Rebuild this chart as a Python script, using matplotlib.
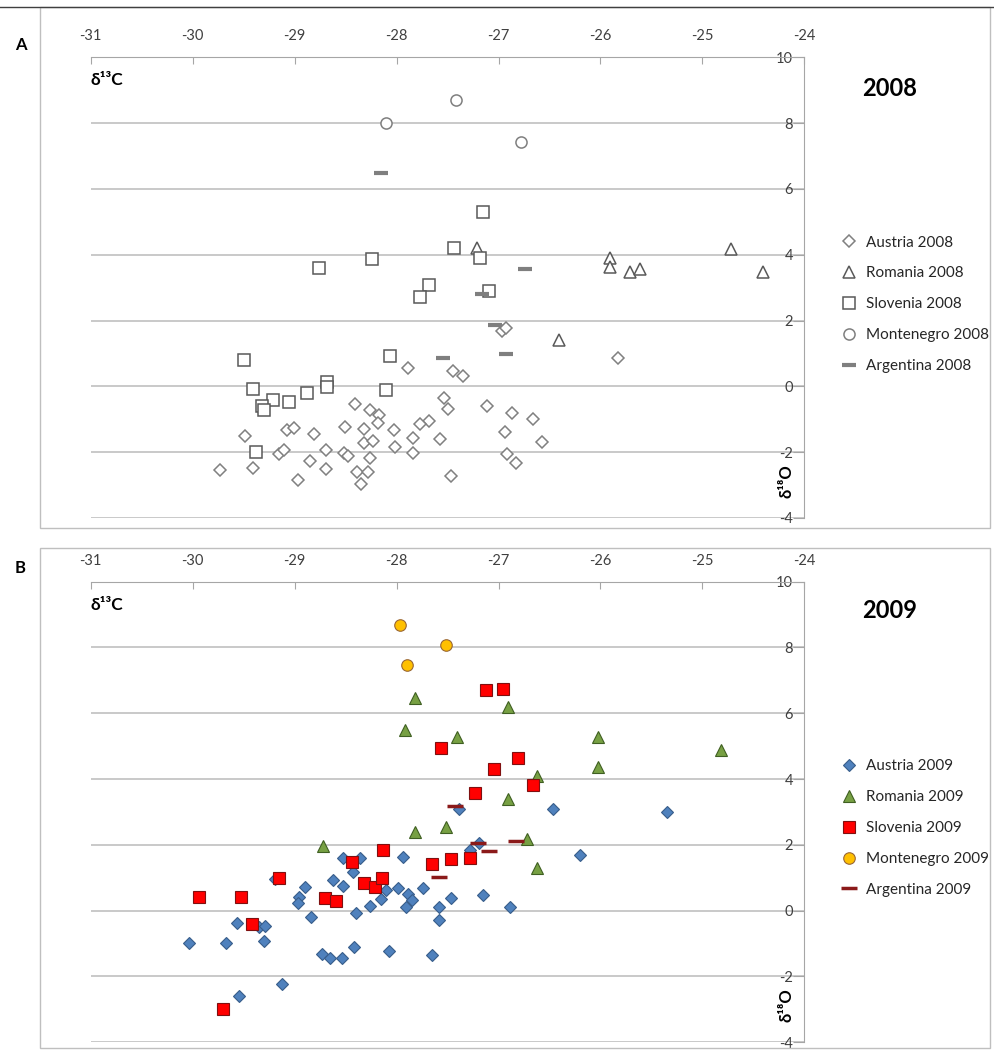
import matplotlib
matplotlib.use('Agg')
import matplotlib.pyplot as plt
from matplotlib.patches import Rectangle
from matplotlib.lines import Line2D

plt.rcParams['font.family'] = ['Lato', 'DejaVu Sans']
plt.rcParams['axes.unicode_minus'] = False

# ---- 2008 ----
aut08_c = [-27.45, -27.35, -27.89, -26.97, -26.93, -25.83,
           -27.11, -26.87, -26.66, -26.94, -26.57, -26.92, -26.83, -27.47,
           -28.41, -28.26, -28.17, -28.18, -27.53, -27.50, -27.68, -27.77,
           -29.49, -29.07, -29.01, -28.81, -28.51, -28.32, -28.32, -28.23,
           -28.03, -28.02, -27.84, -27.57, -27.84, -29.15, -29.10, -28.69,
           -28.52, -28.48, -28.26, -28.85, -28.69, -28.39, -28.28, -28.35,
           -29.73, -29.41, -28.97]
aut08_o = [0.47, 0.32, 0.57, 1.68, 1.78, 0.86,
           -0.59, -0.82, -1.00, -1.39, -1.68, -2.06, -2.33, -2.71,
           -0.54, -0.73, -0.87, -1.12, -0.34, -0.69, -1.05, -1.15,
           -1.52, -1.34, -1.27, -1.44, -1.24, -1.30, -1.73, -1.66,
           -1.32, -1.83, -1.56, -1.61, -2.03, -2.05, -1.93, -1.93,
           -2.03, -2.13, -2.18, -2.28, -2.51, -2.59, -2.61, -2.96,
           -2.54, -2.49, -2.84]
rom08_c = [-27.21, -25.91, -25.91, -25.71, -25.61, -24.72, -24.41, -26.41]
rom08_o = [4.20, 3.90, 3.64, 3.47, 3.57, 4.18, 3.47, 1.40]
slo08_c = [-27.15, -27.44, -27.18, -28.24, -28.76, -27.68, -27.77, -27.09,
           -29.50, -28.06, -29.41, -28.68, -28.68, -28.10, -29.21, -29.32,
           -29.30, -29.06, -28.88, -29.38]
slo08_o = [5.30, 4.19, 3.91, 3.87, 3.59, 3.08, 2.71, 2.91,
           0.80, 0.91, -0.08, 0.13, -0.02, -0.11, -0.41, -0.61,
           -0.71, -0.49, -0.19, -2.00]
mne08_c = [-27.42, -28.10, -26.78]
mne08_o = [8.71, 8.00, 7.42]
arg08_c = [-28.15, -27.16, -27.03, -26.74, -26.93, -27.54]
arg08_o = [6.49, 2.82, 1.87, 3.56, 0.99, 0.86]

# ---- 2009 ----
aut09_c = [-27.39, -28.53, -28.36, -27.94, -27.28, -27.19, -28.43, -26.47, -25.35, -26.20,
           -27.47, -27.15, -26.89, -29.19, -29.57, -29.35, -29.29, -29.30, -30.04, -29.67,
           -28.90, -28.96, -28.97, -28.84, -28.62, -28.53, -28.40, -28.26, -28.15, -28.10,
           -27.99, -27.89, -27.85, -27.91, -27.74, -27.58, -27.58, -28.42, -28.07, -27.65,
           -28.73, -28.65, -28.54, -29.12, -29.55]
aut09_o = [3.09, 1.59, 1.59, 1.64, 1.84, 2.06, 1.18, 3.08, 3.00, 1.69,
           0.39, 0.47, 0.10, 0.95, -0.37, -0.51, -0.47, -0.92, -1.00, -1.00,
           0.71, 0.42, 0.24, -0.21, 0.93, 0.76, -0.06, 0.14, 0.35, 0.62,
           0.69, 0.50, 0.32, 0.10, 0.69, 0.12, -0.29, -1.10, -1.23, -1.35,
           -1.33, -1.45, -1.45, -2.24, -2.60]
rom09_c = [-27.82, -27.92, -27.41, -26.91, -26.02, -26.02, -24.82,
           -26.62, -26.91, -27.82, -27.52, -28.72, -26.72, -26.62]
rom09_o = [6.47, 5.49, 5.28, 6.18, 5.28, 4.37, 4.88,
           4.09, 3.39, 2.40, 2.55, 1.96, 2.17, 1.28]
slo09_c = [-27.12, -26.96, -27.56, -27.04, -26.81, -26.66, -27.23, -28.13, -28.44, -27.65,
           -27.47, -27.28, -29.15, -29.94, -29.53, -29.42, -28.70, -28.59, -28.32, -28.21,
           -28.14, -29.70]
slo09_o = [6.70, 6.73, 4.95, 4.30, 4.65, 3.81, 3.56, 1.84, 1.48, 1.41,
           1.56, 1.59, 0.98, 0.42, 0.40, -0.41, 0.37, 0.29, 0.83, 0.72,
           1.00, -3.00]
mne09_c = [-27.97, -27.52, -27.90]
mne09_o = [8.68, 8.07, 7.48]
arg09_c = [-27.43, -27.20, -27.09, -26.83, -27.58]
arg09_o = [3.18, 2.06, 1.82, 2.12, 1.03]

fig = plt.figure(figsize=(9.95, 10.5), dpi=100)

# frame boxes and top rule
fig.add_artist(Rectangle((0.040, 0.497), 0.955, 0.496, transform=fig.transFigure,
                         fill=False, ec='#BFBFBF', lw=1))
fig.add_artist(Rectangle((0.040, 0.002), 0.955, 0.476, transform=fig.transFigure,
                         fill=False, ec='#BFBFBF', lw=1))
fig.add_artist(Line2D([0, 1], [0.993, 0.993], color='#404040', lw=1))

axA = fig.add_axes([0.0912, 0.5067, 0.7172, 0.4387])
axB = fig.add_axes([0.0912, 0.0075, 0.7172, 0.4385])


def style_axes(ax):
    ax.set_xlim(-31, -24)
    ax.set_ylim(-4, 10)
    ax.set_xticks(range(-31, -23))
    ax.set_yticks(range(-4, 11, 2))
    ax.xaxis.tick_top()
    ax.yaxis.tick_right()
    for s in ['left', 'bottom']:
        ax.spines[s].set_visible(False)
    for s in ['top', 'right']:
        ax.spines[s].set_color('#A6A6A6')
    ax.tick_params(axis='x', direction='in', length=5, color='#A6A6A6',
                   labelsize=10.5, labelcolor='#404040', pad=10)
    ax.tick_params(axis='y', direction='in', length=8, color='#A6A6A6',
                   labelsize=10.5, labelcolor='#404040', pad=-8)
    for lbl in ax.get_yticklabels():
        lbl.set_horizontalalignment('right')
    ax.grid(axis='y', color='#C0C0C0', lw=1.2)
    ax.set_axisbelow(True)
    ax.text(0.0, 0.95, 'δ¹³C', transform=ax.transAxes, fontsize=12.5,
            fontweight='bold', ha='left', va='center')
    ax.text(0.975, 0.08, 'δ¹⁸O', transform=ax.transAxes, fontsize=12,
            fontweight='bold', rotation=90, ha='center', va='center')


style_axes(axA)
style_axes(axB)

# 2008 open markers
axA.plot(aut08_c, aut08_o, 'D', ms=6.3, mfc='white', mec='#808080', mew=1.1,
         ls='none', label='Austria 2008')
axA.plot(rom08_c, rom08_o, '^', ms=9, mfc='white', mec='#595959', mew=1.1,
         ls='none', label='Romania 2008')
axA.plot(slo08_c, slo08_o, 's', ms=8.5, mfc='white', mec='#595959', mew=1.1,
         ls='none', label='Slovenia 2008')
axA.plot(mne08_c, mne08_o, 'o', ms=8, mfc='white', mec='#7F7F7F', mew=1.1,
         ls='none', label='Montenegro 2008')
axA.plot(arg08_c, arg08_o, '_', ms=10.5, mec='#7F7F7F', mew=3,
         ls='none', label='Argentina 2008')

# 2009 filled markers
axB.plot(aut09_c, aut09_o, 'D', ms=6.2, mfc='#4F81BD', mec='#385D8A', mew=0.8,
         ls='none', label='Austria 2009')
axB.plot(rom09_c, rom09_o, '^', ms=9, mfc='#77A043', mec='#3F5F22', mew=0.8,
         ls='none', label='Romania 2009')
axB.plot(slo09_c, slo09_o, 's', ms=8.3, mfc='#FF0000', mec='#7F1010', mew=0.8,
         ls='none', label='Slovenia 2009')
axB.plot(mne09_c, mne09_o, 'o', ms=8.3, mfc='#FFC000', mec='#996633', mew=0.8,
         ls='none', label='Montenegro 2009')
axB.plot(arg09_c, arg09_o, '_', ms=11, mec='#8B1A1A', mew=2.5,
         ls='none', label='Argentina 2009')

for ax, year, ytop, lgy in [(axA, '2008', 0.916, 0.7814), (axB, '2009', 0.419, 0.2825)]:
    fig.text(0.894, ytop, year, fontsize=17, fontweight='bold', ha='center', va='center')
    ax.legend(loc='upper left', bbox_to_anchor=(0.841, lgy),
              bbox_transform=fig.transFigure, frameon=False, fontsize=11,
              handlelength=0.8, handletextpad=0.7, labelspacing=1.1,
              borderaxespad=0, labelcolor='#262626')

fig.text(0.015, 0.957, 'A', fontsize=12, fontweight='bold', ha='left', va='center')
fig.text(0.015, 0.459, 'B', fontsize=12, fontweight='bold', ha='left', va='center')

fig.savefig('out.png', dpi=100)
